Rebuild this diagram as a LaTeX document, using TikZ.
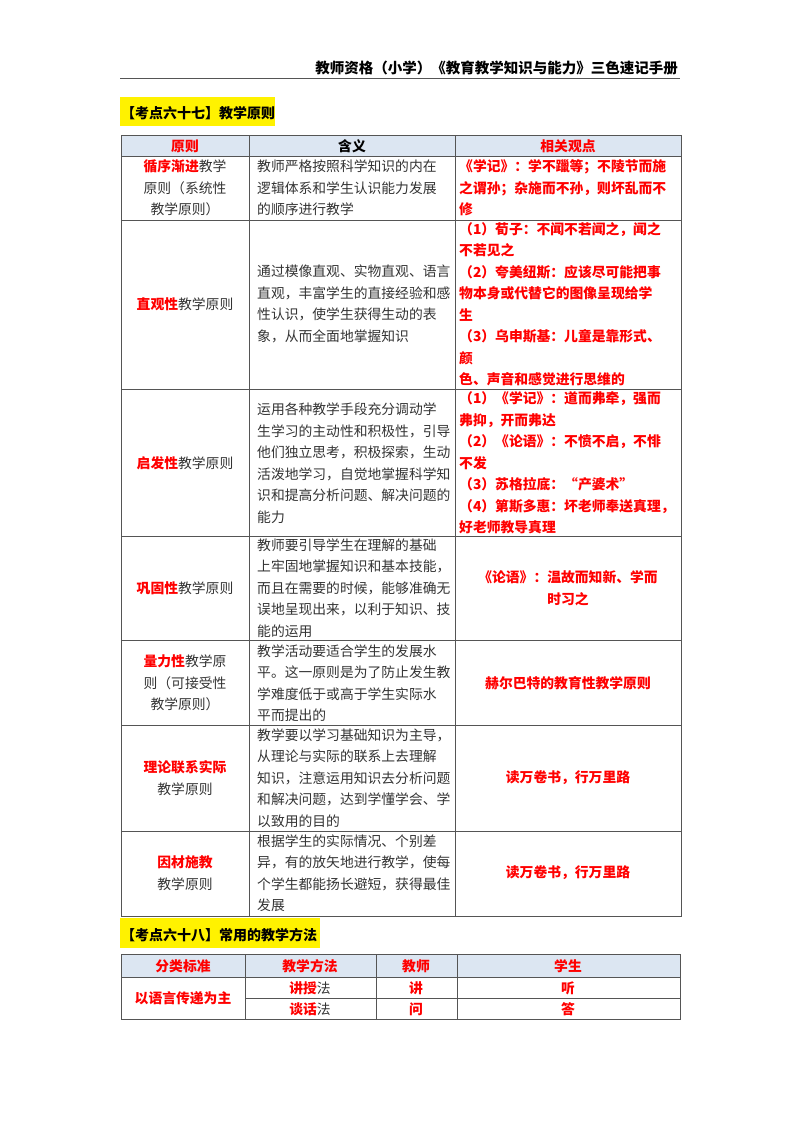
\documentclass[tikz,border=0pt]{standalone}
\usepackage{fontspec}
\setmainfont{Noto Sans CJK SC}
\definecolor{hd}{HTML}{DCE6F2}
\definecolor{tx}{HTML}{333333}
\definecolor{rd}{HTML}{FF0000}
\definecolor{ln}{HTML}{555555}
\begin{document}
\begin{tikzpicture}[x=1pt,y=-1pt,
  every node/.style={inner sep=0pt,font=\fontsize{13.8}{21.5}\selectfont,text=tx},
  c/.style={align=center},
  l/.style={align=left},
  r/.style={text=rd,font=\fontsize{13.8}{21.5}\selectfont\bfseries},
  grid/.style={draw=ln,line width=0.9pt}]
\useasboundingbox (0,0) rectangle (800,1132);
\newcommand\R[1]{\textcolor{rd}{\bfseries #1}}
% header
\node[anchor=east,font=\fontsize{14.5}{16}\selectfont\bfseries,text=black] (hdr) at (678,68) {教师资格（小学）《教育教学知识与能力》三色速记手册};
\draw[line width=1pt,ln] (120,78) -- (680,78);
% title 1
\fill[yellow] (120,97) rectangle (275,126);
\node[anchor=west,font=\fontsize{14}{16}\selectfont\bfseries,text=black] (t1) at (121,113) {【考点六十七】教学原则};
% table 1
\fill[hd] (121,135) rectangle (681,156);
\draw[grid] (121,135) rectangle (681,916);
\foreach \y in {156,220,389,536,640,725,831} \draw[grid] (121,\y) -- (681,\y);
\draw[grid] (249,135) -- (249,916);
\draw[grid] (455,135) -- (455,916);
\node[r] (h1) at (185,146) {原则};
\node[font=\fontsize{13.8}{16}\selectfont\bfseries,text=black] (h2) at (352,146) {含义};
\node[r] (h3) at (568,146) {相关观点};
% row 1
\node[c] (a1) at (185,188) {\R{循序渐进}教学\\原则（系统性\\教学原则）};
\node[l,anchor=west] (b1) at (257,188) {教师严格按照科学知识的内在\\逻辑体系和学生认识能力发展\\的顺序进行教学};
\node[l,r,anchor=west] (c1) at (459,188) {《学记》：学不躐等；不陵节而施\\之谓孙；杂施而不孙，则坏乱而不\\修};
% row 2
\node[c] (a2) at (185,304) {\R{直观性}教学原则};
\node[l,anchor=west] (b2) at (257,304) {通过模像直观、实物直观、语言\\直观，丰富学生的直接经验和感\\性认识，使学生获得生动的表\\象，从而全面地掌握知识};
\node[l,r,anchor=west] (c2) at (459,304) {（1）荀子：不闻不若闻之，闻之\\不若见之\\（2）夸美纽斯：应该尽可能把事\\物本身或代替它的图像呈现给学\\生\\（3）乌申斯基：儿童是靠形式、\\颜\\色、声音和感觉进行思维的};
% row 3
\node[c] (a3) at (185,463) {\R{启发性}教学原则};
\node[l,anchor=west] (b3) at (257,463) {运用各种教学手段充分调动学\\生学习的主动性和积极性，引导\\他们独立思考，积极探索，生动\\活泼地学习，自觉地掌握科学知\\识和提高分析问题、解决问题的\\能力};
\node[l,r,anchor=west] (c3) at (459,463) {（1）《学记》：道而弗牵，强而\\弗抑，开而弗达\\（2）《论语》：不愤不启，不悱\\不发\\（3）苏格拉底：“产婆术”\\（4）第斯多惠：坏老师奉送真理，\\好老师教导真理};
% row 4
\node[c] (a4) at (185,588) {\R{巩固性}教学原则};
\node[l,anchor=west] (b4) at (257,588) {教师要引导学生在理解的基础\\上牢固地掌握知识和基本技能，\\而且在需要的时候，能够准确无\\误地呈现出来，以利于知识、技\\能的运用};
\node[c,r] (c4) at (568,588) {《论语》：温故而知新、学而\\时习之};
% row 5
\node[c] (a5) at (185,683) {\R{量力性}教学原\\则（可接受性\\教学原则）};
\node[l,anchor=west] (b5) at (257,683) {教学活动要适合学生的发展水\\平。这一原则是为了防止发生教\\学难度低于或高于学生实际水\\平而提出的};
\node[c,r] (c5) at (568,683) {赫尔巴特的教育性教学原则};
% row 6
\node[c] (a6) at (185,778) {\R{理论联系实际}\\教学原则};
\node[l,anchor=west] (b6) at (257,778) {教学要以学习基础知识为主导，\\从理论与实际的联系上去理解\\知识，注意运用知识去分析问题\\和解决问题，达到学懂学会、学\\以致用的目的};
\node[c,r] (c6) at (568,778) {读万卷书，行万里路};
% row 7
\node[c] (a7) at (185,873) {\R{因材施教}\\教学原则};
\node[l,anchor=west] (b7) at (257,873) {根据学生的实际情况、个别差\\异，有的放矢地进行教学，使每\\个学生都能扬长避短，获得最佳\\发展};
\node[c,r] (c7) at (568,873) {读万卷书，行万里路};
% title 2
\fill[yellow] (120,918) rectangle (320,948);
\node[anchor=west,font=\fontsize{14}{16}\selectfont\bfseries,text=black] (t2) at (121,935) {【考点六十八】常用的教学方法};
% table 2
\fill[hd] (121,954) rectangle (680,977);
\draw[grid] (121,954) rectangle (680,1019);
\draw[grid] (121,977) -- (680,977);
\draw[grid] (245,998) -- (680,998);
\foreach \x in {245,376,457} \draw[grid] (\x,954) -- (\x,1019);
\node[r] (m1) at (183,966) {分类标准};
\node[r] (m2) at (310,966) {教学方法};
\node[r] (m3) at (416,966) {教师};
\node[r] (m4) at (568,966) {学生};
\node[r] (n1) at (183,998) {以语言传递为主};
\node (n2) at (310,988) {\R{讲授}法};
\node[r] (n3) at (416,988) {讲};
\node[r] (n4) at (568,988) {听};
\node (p2) at (310,1009) {\R{谈话}法};
\node[r] (p3) at (416,1009) {问};
\node[r] (p4) at (568,1009) {答};
\end{tikzpicture}
\end{document}
